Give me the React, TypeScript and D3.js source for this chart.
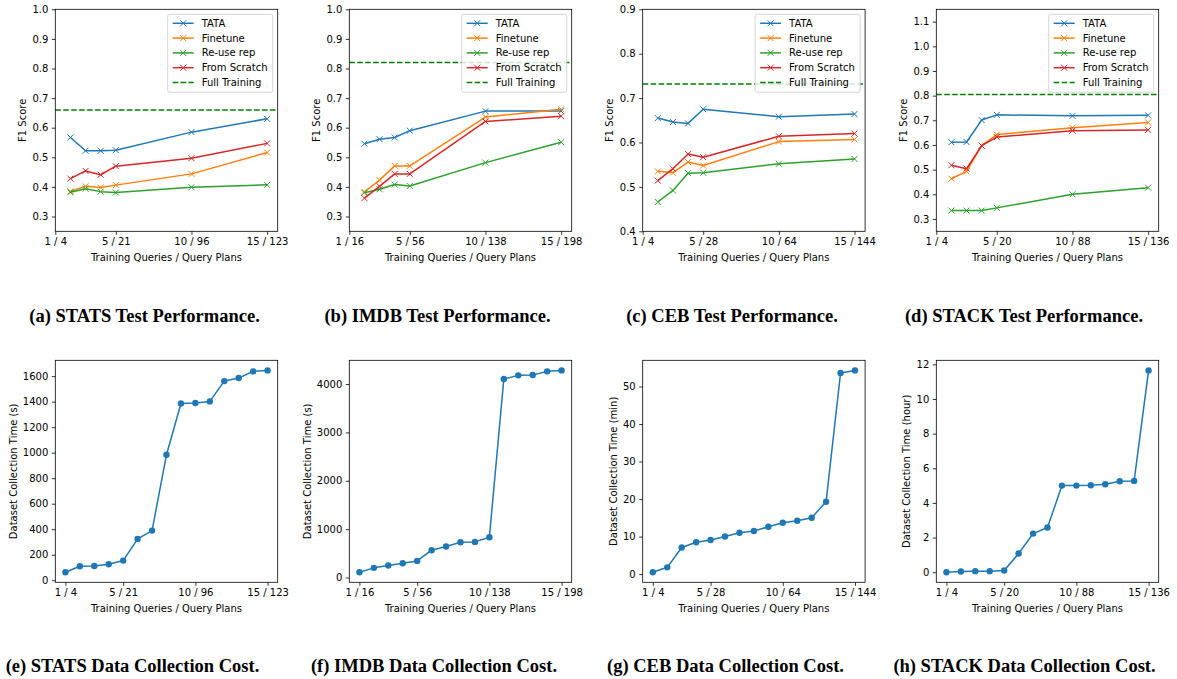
import { useRef, useEffect } from 'react'
import * as d3 from 'd3'

// x positions (number of training queries)
const perfQueries = [2, 3, 4, 5, 10, 15]
const costQueries = [1, 2, 3, 4, 5, 6, 7, 8, 9, 10, 11, 12, 13, 14, 15]
const tickQueries = [1, 5, 10, 15]

const statsLabels = ['1 / 4', '5 / 21', '10 / 96', '15 / 123']
const imdbLabels = ['1 / 16', '5 / 56', '10 / 138', '15 / 198']
const cebLabels = ['1 / 4', '5 / 28', '10 / 64', '15 / 144']
const stackLabels = ['1 / 4', '5 / 20', '10 / 88', '15 / 136']

const methods = ['TATA', 'Finetune', 'Re-use rep', 'From Scratch']
const methodColors = ['#1f77b4', '#ff7f0e', '#2ca02c', '#d62728']

// F1 scores
const statsTata = [0.567, 0.522, 0.522, 0.524, 0.585, 0.63]
const statsFinetune = [0.385, 0.402, 0.398, 0.406, 0.444, 0.516]
const statsReuse = [0.382, 0.394, 0.384, 0.381, 0.399, 0.407]
const statsScratch = [0.428, 0.454, 0.441, 0.47, 0.497, 0.547]
const statsFull = 0.66

const imdbTata = [0.546, 0.561, 0.567, 0.59, 0.656, 0.656]
const imdbFinetune = [0.383, 0.423, 0.471, 0.471, 0.636, 0.662]
const imdbReuse = [0.38, 0.392, 0.408, 0.403, 0.482, 0.551]
const imdbScratch = [0.362, 0.402, 0.444, 0.444, 0.621, 0.639]
const imdbFull = 0.82

const cebTata = [0.655, 0.646, 0.643, 0.675, 0.658, 0.664]
const cebFinetune = [0.535, 0.532, 0.556, 0.548, 0.602, 0.607]
const cebReuse = [0.466, 0.492, 0.531, 0.532, 0.552, 0.563]
const cebScratch = [0.514, 0.541, 0.574, 0.567, 0.614, 0.62]
const cebFull = 0.732

const stackTata = [0.611, 0.612, 0.701, 0.722, 0.718, 0.72]
const stackFinetune = [0.463, 0.493, 0.597, 0.642, 0.67, 0.691]
const stackReuse = [0.334, 0.334, 0.334, 0.345, 0.4, 0.427]
const stackScratch = [0.518, 0.504, 0.597, 0.632, 0.658, 0.661]
const stackFull = 0.805

const f1TicksA = [0.3, 0.4, 0.5, 0.6, 0.7, 0.8, 0.9, 1.0]
const f1TicksC = [0.4, 0.5, 0.6, 0.7, 0.8, 0.9]
const f1TicksD = [0.3, 0.4, 0.5, 0.6, 0.7, 0.8, 0.9, 1.0, 1.1]

// data collection cost
const statsCost = [63, 110, 112, 125, 154, 324, 389, 984, 1386, 1389, 1402, 1561, 1585, 1637, 1645]
const imdbCost = [110, 200, 248, 296, 344, 565, 640, 730, 737, 833, 4103, 4179, 4186, 4262, 4282]
const cebCost = [0.5, 1.8, 7.1, 8.5, 9.1, 10.0, 11.0, 11.5, 12.6, 13.7, 14.2, 15.0, 19.3, 53.6, 54.3]
const stackCost = [0, 0.04, 0.06, 0.06, 0.1, 1.08, 2.23, 2.58, 5.0, 5.0, 5.02, 5.08, 5.25, 5.27, 11.65]

const statsCostTicks = [0, 200, 400, 600, 800, 1000, 1200, 1400, 1600]
const imdbCostTicks = [0, 1000, 2000, 3000, 4000]
const cebCostTicks = [0, 10, 20, 30, 40, 50]
const stackCostTicks = [0, 2, 4, 6, 8, 10, 12]

const perfCaptions = [
  '(a) STATS Test Performance.',
  '(b) IMDB Test Performance.',
  '(c) CEB Test Performance.',
  '(d) STACK Test Performance.',
]
const costCaptions = [
  '(e) STATS Data Collection Cost.',
  '(f) IMDB Data Collection Cost.',
  '(g) CEB Data Collection Cost.',
  '(h) STACK Data Collection Cost.',
]

const FONT = '"DejaVu Sans", sans-serif'
const colLefts = [55.3, 349.3, 642.7, 936.3]
const rowTops = [9.3, 360.3]
const plotW = 222.4
const plotH = 222
const perfCaptionX = [144.5, 437.5, 732, 1024]
const costCaptionX = [132.5, 434, 725.5, 1024.5]

const App = () => {
  const svgRef = useRef(null)

  useEffect(() => {
    const svg = d3.select(svgRef.current)
    svg.selectAll('*').remove()

    const perfPanels = [
      { labels: statsLabels, series: [statsTata, statsFinetune, statsReuse, statsScratch], full: statsFull, yDomain: [0.25, 1.0], yTicks: f1TicksA },
      { labels: imdbLabels, series: [imdbTata, imdbFinetune, imdbReuse, imdbScratch], full: imdbFull, yDomain: [0.25, 1.0], yTicks: f1TicksA },
      { labels: cebLabels, series: [cebTata, cebFinetune, cebReuse, cebScratch], full: cebFull, yDomain: [0.4, 0.9], yTicks: f1TicksC },
      { labels: stackLabels, series: [stackTata, stackFinetune, stackReuse, stackScratch], full: stackFull, yDomain: [0.25, 1.15], yTicks: f1TicksD },
    ]
    const costPanels = [
      { labels: statsLabels, values: statsCost, yTicks: statsCostTicks, unit: 's' },
      { labels: imdbLabels, values: imdbCost, yTicks: imdbCostTicks, unit: 's' },
      { labels: cebLabels, values: cebCost, yTicks: cebCostTicks, unit: 'min' },
      { labels: stackLabels, values: stackCost, yTicks: stackCostTicks, unit: 'hour' },
    ]

    function drawFrame(g, x, y, labels, yTicks, yFmt, yLabel) {
      const xAxis = d3
        .axisBottom(x)
        .tickValues(tickQueries)
        .tickFormat((d, i) => labels[i])
        .tickSize(3.5)
        .tickPadding(3.5)
      const yAxis = d3.axisLeft(y).tickValues(yTicks).tickFormat(yFmt).tickSize(3.5).tickPadding(3.5)

      const xg = g.append('g').attr('transform', `translate(0,${plotH})`).call(xAxis)
      const yg = g.append('g').call(yAxis)
      for (const ag of [xg, yg]) {
        ag.select('.domain').remove()
        ag.selectAll('.tick line').attr('stroke', '#000').attr('stroke-width', 0.8)
        ag.selectAll('.tick text').attr('fill', '#000').attr('font-size', 10).attr('font-family', FONT)
      }

      g.append('rect')
        .attr('width', plotW)
        .attr('height', plotH)
        .attr('fill', 'none')
        .attr('stroke', '#000')
        .attr('stroke-width', 0.8)

      g.append('text')
        .text('Training Queries / Query Plans')
        .attr('x', plotW / 2)
        .attr('y', plotH + 29.5)
        .attr('text-anchor', 'middle')
        .attr('font-size', 10)
        .attr('font-family', FONT)

      const box = yg.node().getBBox()
      const lx = box.x - 9.8
      g.append('text')
        .text(yLabel)
        .attr('transform', `translate(${lx},${plotH / 2}) rotate(-90)`)
        .attr('text-anchor', 'middle')
        .attr('dominant-baseline', 'central')
        .attr('font-size', 10)
        .attr('font-family', FONT)
    }

    function xMarker(sel, color) {
      sel.append('path').attr('d', 'M-3,-3L3,3M-3,3L3,-3').attr('stroke', color).attr('stroke-width', 1).attr('fill', 'none')
    }

    perfPanels.forEach((p, pi) => {
      const g = svg.append('g').attr('transform', `translate(${colLefts[pi]},${rowTops[0]})`)
      const x = d3.scaleLinear().domain([1, 15.7]).range([0, plotW])
      const y = d3.scaleLinear().domain(p.yDomain).range([plotH, 0])

      const line = d3
        .line()
        .x((d) => x(d[0]))
        .y((d) => y(d[1]))

      p.series.forEach((vals, si) => {
        const pts = perfQueries.map((q, i) => [q, vals[i]])
        g.append('path')
          .attr('d', line(pts))
          .attr('fill', 'none')
          .attr('stroke', methodColors[si])
          .attr('stroke-width', 1.5)
          .attr('stroke-linejoin', 'round')
        pts.forEach((pt) => {
          const m = g.append('g').attr('transform', `translate(${x(pt[0])},${y(pt[1])})`)
          xMarker(m, methodColors[si])
        })
      })

      g.append('line')
        .attr('x1', 0)
        .attr('x2', plotW)
        .attr('y1', y(p.full))
        .attr('y2', y(p.full))
        .attr('stroke', '#008000')
        .attr('stroke-width', 1.5)
        .attr('stroke-dasharray', '5.55,2.4')

      drawFrame(g, x, y, p.labels, p.yTicks, d3.format('.1f'), 'F1 Score')

      // legend
      const lw = 105
      const lh = 78
      const legend = g.append('g').attr('transform', `translate(${plotW - 5 - lw},5)`)
      legend
        .append('rect')
        .attr('width', lw)
        .attr('height', lh)
        .attr('rx', 2)
        .attr('fill', '#fff')
        .attr('fill-opacity', 0.8)
        .attr('stroke', '#ccc')
        .attr('stroke-width', 0.8)
      const entries = [...methods, 'Full Training']
      entries.forEach((name, i) => {
        const cy = 9 + i * 14.8
        const e = legend.append('g').attr('transform', `translate(0,${cy})`)
        if (i < methods.length) {
          e.append('line').attr('x1', 5).attr('x2', 26).attr('stroke', methodColors[i]).attr('stroke-width', 1.5)
          xMarker(e.append('g').attr('transform', 'translate(15.5,0)'), methodColors[i])
        } else {
          e.append('line')
            .attr('x1', 5)
            .attr('x2', 26)
            .attr('stroke', '#008000')
            .attr('stroke-width', 1.5)
            .attr('stroke-dasharray', '5.55,2.4')
        }
        e.append('text')
          .text(name)
          .attr('x', 34)
          .attr('dy', '0.35em')
          .attr('font-size', 10)
          .attr('font-family', FONT)
      })

      svg
        .append('text')
        .text(perfCaptions[pi])
        .attr('x', perfCaptionX[pi])
        .attr('y', 322)
        .attr('text-anchor', 'middle')
        .attr('font-size', 18.5)
        .attr('font-weight', 'bold')
        .attr('font-family', '"Liberation Serif", serif')
    })

    costPanels.forEach((p, pi) => {
      const g = svg.append('g').attr('transform', `translate(${colLefts[pi]},${rowTops[1]})`)
      const x = d3.scaleLinear().domain([0.3, 15.7]).range([0, plotW])
      const [lo, hi] = d3.extent(p.values)
      const pad = (hi - lo) * 0.05
      const y = d3.scaleLinear().domain([lo - pad, hi + pad]).range([plotH, 0])

      const line = d3
        .line()
        .x((d, i) => x(costQueries[i]))
        .y((d) => y(d))

      g.append('path')
        .attr('d', line(p.values))
        .attr('fill', 'none')
        .attr('stroke', '#1f77b4')
        .attr('stroke-width', 1.5)
        .attr('stroke-linejoin', 'round')

      g.selectAll('circle.pt')
        .data(p.values)
        .join('circle')
        .attr('cx', (d, i) => x(costQueries[i]))
        .attr('cy', (d) => y(d))
        .attr('r', 3.2)
        .attr('fill', '#1f77b4')

      drawFrame(g, x, y, p.labels, p.yTicks, d3.format('d'), `Dataset Collection Time (${p.unit})`)

      svg
        .append('text')
        .text(costCaptions[pi])
        .attr('x', costCaptionX[pi])
        .attr('y', 672)
        .attr('text-anchor', 'middle')
        .attr('font-size', 18.5)
        .attr('font-weight', 'bold')
        .attr('font-family', '"Liberation Serif", serif')
    })
  }, [])

  return (
    <div>
      <svg
        ref={svgRef}
        width={1177}
        height={679}
        style={{ position: 'absolute', left: 0, top: 0, background: '#fff' }}
      ></svg>
    </div>
  )
}

export default App
